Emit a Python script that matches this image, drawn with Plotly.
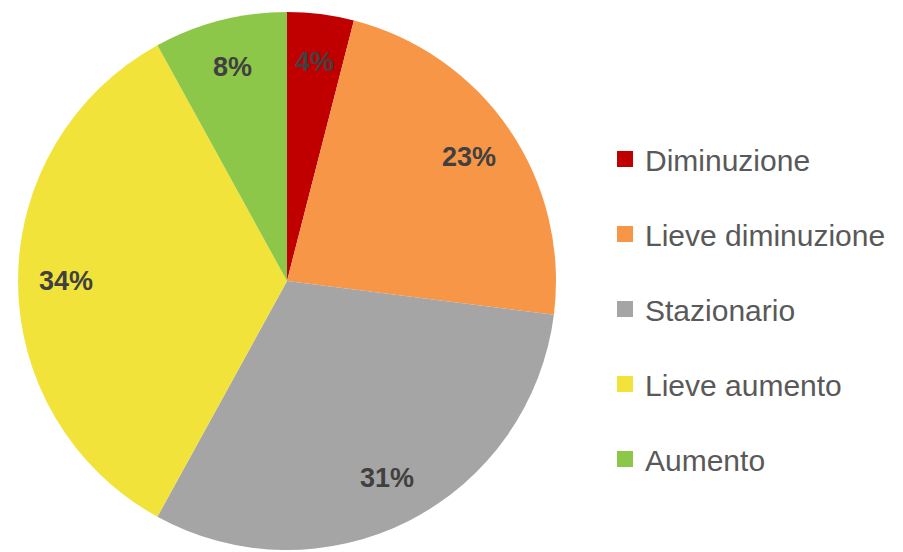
import math
import plotly.graph_objects as go

categories = ["Diminuzione", "Lieve diminuzione", "Stazionario", "Lieve aumento", "Aumento"]
values = [4, 23, 31, 34, 8]
colors = ["#C00000", "#F79646", "#A5A5A5", "#F2E33A", "#8DC74A"]

W, H = 903, 552
dom_x = [18 / W, 556 / W]
dom_y = [2 / H, 540 / H]

fig = go.Figure()
fig.add_trace(go.Pie(
    labels=categories,
    values=values,
    marker=dict(colors=colors, line=dict(width=0)),
    sort=False,
    direction="clockwise",
    rotation=0,
    textinfo="none",
    showlegend=False,
    hoverinfo="label+percent",
    domain=dict(x=dom_x, y=dom_y),
))

# data labels placed at mid-angle of each slice (like Excel "best fit")
cx = (dom_x[0] + dom_x[1]) / 2 * W
cy = (1 - (dom_y[0] + dom_y[1]) / 2) * H
radius = min((dom_x[1] - dom_x[0]) * W, (dom_y[1] - dom_y[0]) * H) / 2
label_frac = 0.82
total = sum(values)
cum = 0
for v in values:
    mid = (cum + v / 2) / total * 2 * math.pi
    cum += v
    px = cx + label_frac * radius * math.sin(mid)
    py = cy - label_frac * radius * math.cos(mid)
    fig.add_annotation(
        x=px / W, y=1 - py / H, xref="paper", yref="paper",
        xanchor="center", yanchor="middle",
        text=f"{v}%", showarrow=False,
        font=dict(family="Liberation Sans", size=27, color="#404040", weight="bold"),
    )

for cat, col in zip(categories, colors):
    fig.add_trace(go.Scatter(
        x=[None], y=[None], mode="markers", name=cat,
        marker=dict(symbol="square", size=17, color=col),
        legendgroup=cat, showlegend=True,
    ))

fig.update_layout(
    width=W, height=H,
    margin=dict(l=0, r=0, t=0, b=0),
    paper_bgcolor="white", plot_bgcolor="white",
    xaxis=dict(visible=False), yaxis=dict(visible=False),
    legend=dict(
        x=605 / W, y=1 - 133 / H, xanchor="left", yanchor="top",
        font=dict(family="Liberation Sans", size=30, color="#595959"),
        tracegroupgap=33, itemclick=False, bgcolor="rgba(0,0,0,0)",
    ),
)

fig.write_html("out.html")
